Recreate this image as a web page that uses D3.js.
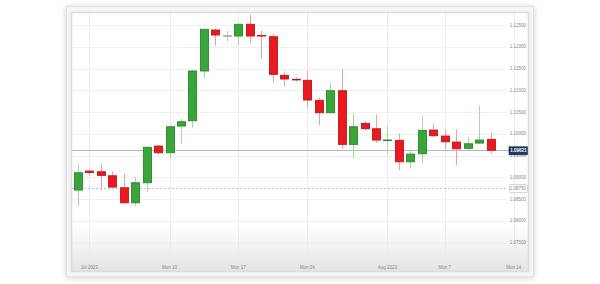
<!DOCTYPE html>
<html>
<head>
<meta charset="utf-8">
<script src="https://cdn.jsdelivr.net/npm/d3@7"></script>
<style>
  body { margin: 0; background: #fff; }
  svg { display: block; font-family: "Liberation Sans", Arial, sans-serif; }
  .axis-label { fill: #888; font-size: 4.5px; }
</style>
</head>
<body>
<svg class="plot"></svg>
<script>
const W = 600, H = 284;

// candle data (EUR/USD daily, Jun 30 - Aug 11 2023)
const candleIndex = d3.range(37);
const opens  = [1.08707, 1.09144, 1.09128, 1.09036, 1.08760, 1.08415, 1.08875, 1.09718, 1.09564, 1.10178,
                1.10300, 1.11443, 1.12385, 1.12254, 1.12247, 1.12516, 1.12260, 1.12231, 1.11344, 1.11252,
                1.11229, 1.10769, 1.10484, 1.10990, 1.09757, 1.10240, 1.10116, 1.09854, 1.09849, 1.09357,
                1.09541, 1.10086, 1.09948, 1.09810, 1.09666, 1.09787, 1.09872];
const highs  = [1.09305, 1.09167, 1.09320, 1.09137, 1.09082, 1.08999, 1.09718, 1.09741, 1.10185, 1.10332,
                1.11466, 1.12408, 1.12424, 1.12362, 1.12523, 1.12730, 1.12369, 1.12287, 1.11437, 1.11293,
                1.11449, 1.10829, 1.11167, 1.11489, 1.10470, 1.10293, 1.10447, 1.10185, 1.10010, 1.09626,
                1.10408, 1.10224, 1.10102, 1.10102, 1.09932, 1.10645, 1.10033];
const lows   = [1.08346, 1.09029, 1.08707, 1.08761, 1.08408, 1.08346, 1.08668, 1.09529, 1.09436, 1.09764,
                1.10139, 1.11289, 1.12024, 1.12125, 1.12024, 1.12079, 1.11734, 1.11183, 1.11082, 1.11193,
                1.10585, 1.10201, 1.10484, 1.09649, 1.09436, 1.10079, 1.09794, 1.09528, 1.09167, 1.09202,
                1.09334, 1.09932, 1.09649, 1.09282, 1.09620, 1.09764, 1.09553];
const closes = [1.09105, 1.09110, 1.09045, 1.08776, 1.08415, 1.08875, 1.09688, 1.09564, 1.10162, 1.10277,
                1.11443, 1.12401, 1.12270, 1.12254, 1.12516, 1.12247, 1.12250, 1.11367, 1.11259, 1.11248,
                1.10776, 1.10484, 1.10990, 1.09757, 1.10162, 1.10116, 1.09856, 1.09858, 1.09357, 1.09534,
                1.10079, 1.09955, 1.09817, 1.09656, 1.09771, 1.09856, 1.09621];

const xTickIndex  = [1, 8, 14, 20, 27, 32, 38];
const xTickLabels = ["Jul 2023", "Mon 10", "Mon 17", "Mon 24", "Aug 2023", "Mon 7", "Mon 14"];
const yTicks = [1.075, 1.08, 1.085, 1.09, 1.095, 1.10, 1.105, 1.11, 1.115, 1.12, 1.125];
const markerLevel = 1.0875;

const data = candleIndex.map(i => ({
  i: i, open: opens[i], high: highs[i], low: lows[i], close: closes[i]
}));

const plot = {left: 72, top: 13, right: 528, bottom: 271};

let x = d3.scaleLinear()
          .domain([-0.5, 39.25])
          .range([plot.left, plot.right]);

let y = d3.scaleLinear()
          .domain([1.075, 1.125])
          .range([242.6, 25]);

let fmt = d3.format(".5f");

let svg = d3.select(".plot")
            .attr("width", W)
            .attr("height", H);

let defs = svg.append("defs");

let shadow = defs.append("filter")
                 .attr("id", "shadow")
                 .attr("x", "-5%").attr("y", "-5%")
                 .attr("width", "110%").attr("height", "112%");
shadow.append("feDropShadow")
      .attr("dx", 0).attr("dy", 1)
      .attr("stdDeviation", 3)
      .attr("flood-color", "#000")
      .attr("flood-opacity", 0.18);

let bg = defs.append("linearGradient")
             .attr("id", "bg")
             .attr("x1", 0).attr("y1", 0).attr("x2", 0).attr("y2", 1);
bg.append("stop").attr("offset", "0%").attr("stop-color", "#ffffff");
bg.append("stop").attr("offset", "82%").attr("stop-color", "#ffffff");
bg.append("stop").attr("offset", "100%").attr("stop-color", "#e4e4e4");

defs.append("clipPath").attr("id", "clip")
    .append("rect")
    .attr("x", plot.left).attr("y", plot.top)
    .attr("width", plot.right - plot.left)
    .attr("height", plot.bottom - plot.top);

// outer frame
svg.append("rect")
   .attr("x", 66.5).attr("y", 6.5)
   .attr("width", 467).attr("height", 270)
   .attr("fill", "#f5f5f5")
   .attr("stroke", "#e2e2e2")
   .attr("filter", "url(#shadow)");

// plot background
svg.append("rect")
   .attr("x", plot.left).attr("y", plot.top)
   .attr("width", plot.right - plot.left)
   .attr("height", plot.bottom - plot.top)
   .attr("fill", "url(#bg)");

let chart = svg.append("g").attr("clip-path", "url(#clip)");

// horizontal grid
chart.append("g")
     .selectAll("line")
     .data(yTicks)
     .enter().append("line")
     .attr("x1", plot.left).attr("x2", 506)
     .attr("y1", d => Math.round(y(d)) + 0.5)
     .attr("y2", d => Math.round(y(d)) + 0.5)
     .attr("stroke", "#f0f0f0");

// vertical grid
chart.append("g")
     .selectAll("line")
     .data(xTickIndex)
     .enter().append("line")
     .attr("x1", d => Math.round(x(d)) + 0.5)
     .attr("x2", d => Math.round(x(d)) + 0.5)
     .attr("y1", plot.top).attr("y2", 263)
     .attr("stroke", "#ececec");

// y labels (inside, right)
chart.append("g")
     .selectAll("text")
     .data(yTicks)
     .enter().append("text")
     .attr("class", "axis-label")
     .attr("x", 526)
     .attr("y", d => y(d) + 1.6)
     .attr("text-anchor", "end")
     .text(d => fmt(d));

// x labels
chart.append("g")
     .selectAll("text")
     .data(xTickIndex)
     .enter().append("text")
     .attr("class", "axis-label")
     .attr("x", d => x(d))
     .attr("y", 268.5)
     .attr("text-anchor", "middle")
     .text((d, k) => xTickLabels[k]);

// dashed marker level
chart.append("line")
     .attr("x1", plot.left).attr("x2", 508)
     .attr("y1", Math.round(y(markerLevel)) + 0.5)
     .attr("y2", Math.round(y(markerLevel)) + 0.5)
     .attr("stroke", "#c4c4c4")
     .attr("stroke-dasharray", "2,2");

// last close line
let lastClose = closes[closes.length - 1];
chart.append("line")
     .attr("x1", plot.left).attr("x2", 509)
     .attr("y1", Math.round(y(lastClose)) + 0.5)
     .attr("y2", Math.round(y(lastClose)) + 0.5)
     .attr("stroke", "#b8b8b8");

function candleColor(d) {
  if (d.close > d.open) return {fill: "#3aa53a", stroke: "#268a26", wick: "#a9d6a9"};
  if (d.close < d.open) return {fill: "#e8191f", stroke: "#c4151a", wick: "#eaa2a4"};
  return {fill: "#b0b0b0", stroke: "#a8a8a8", wick: "#c8c8c8"};
}

let candles = chart.append("g")
                   .selectAll("g")
                   .data(data)
                   .enter().append("g");

candles.append("line")
       .attr("x1", d => Math.round(x(d.i)) + 0.5)
       .attr("x2", d => Math.round(x(d.i)) + 0.5)
       .attr("y1", d => y(d.high))
       .attr("y2", d => y(d.low))
       .attr("stroke", d => candleColor(d).wick);

candles.append("rect")
       .attr("x", d => Math.round(x(d.i)) - 3.5)
       .attr("y", d => y(Math.max(d.open, d.close)))
       .attr("width", 8)
       .attr("height", d => Math.max(0.6, Math.abs(y(d.open) - y(d.close))))
       .attr("fill", d => candleColor(d).fill)
       .attr("stroke", d => candleColor(d).stroke)
       .attr("stroke-width", 0.9);

// marker level label
let mk = svg.append("g").attr("transform", "translate(509," + (y(markerLevel) - 4) + ")");
mk.append("rect")
  .attr("x", 0.5).attr("y", 0.5)
  .attr("width", 18).attr("height", 8)
  .attr("fill", "#fff")
  .attr("stroke", "#d0d0d0")
  .attr("rx", 1);
mk.append("text")
  .attr("class", "axis-label")
  .attr("x", 17).attr("y", 5.8)
  .attr("text-anchor", "end")
  .text(fmt(markerLevel));

// last price label
let lp = svg.append("g").attr("transform", "translate(509," + (y(lastClose) - 3.5) + ")");
lp.append("rect")
  .attr("width", 19).attr("height", 8)
  .attr("fill", "#1d3a62")
  .attr("stroke", "#0f2443")
  .attr("stroke-width", 0.6);
lp.append("text")
  .attr("x", 17.5).attr("y", 5.6)
  .attr("text-anchor", "end")
  .style("font-size", "4.5px")
  .style("font-weight", "bold")
  .attr("fill", "#fff")
  .text(fmt(lastClose));

// plot border
svg.append("rect")
   .attr("x", plot.left - 0.5).attr("y", plot.top - 0.5)
   .attr("width", plot.right - plot.left + 1)
   .attr("height", plot.bottom - plot.top + 1)
   .attr("fill", "none")
   .attr("stroke", "#dcdcdc")
   .attr("stroke-width", 1.5);
</script>
</body>
</html>
